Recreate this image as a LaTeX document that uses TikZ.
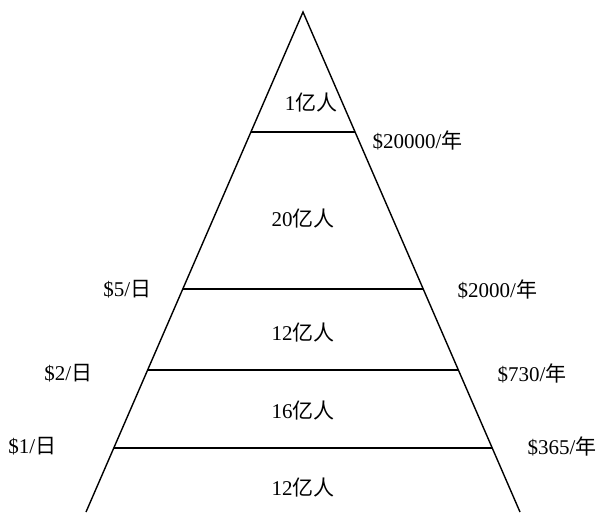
\documentclass[tikz,border=0pt]{standalone}
\usepackage{fontspec}
\setmainfont{Liberation Serif}
\newfontfamily\cjk{Noto Sans CJK SC}
\usetikzlibrary{calc, positioning}

\tikzset{
  level/.style={inner sep=0pt},
  income/.style={inner sep=0pt},
}

\begin{document}
\begin{tikzpicture}[x=1pt, y=-1pt, line width=1.4pt, font=\fontsize{21}{25}\selectfont]
\useasboundingbox (0,0) rectangle (600,512);

% outline of the pyramid
\coordinate (apex) at (303,12);
\coordinate (baseL) at (86,512);
\coordinate (baseR) at (520,512);
\draw (baseL) -- (apex) -- (baseR);

% dividing lines
\foreach \t/\n in {0.24/1, 0.554/2, 0.716/3, 0.872/4}
  \draw ($(apex)!\t!(baseL)$) coordinate (cutL\n) -- ($(apex)!\t!(baseR)$) coordinate (cutR\n);

% population of each layer
\node (p1) [level] at (311,103) {1{\cjk 亿人}};
\node (p2) [level] at (303,219) {20{\cjk 亿人}};
\node (p3) [level] at (303,333) {12{\cjk 亿人}};
\node (p4) [level] at (303,411) {16{\cjk 亿人}};
\node (p5) [level] at (303,488) {12{\cjk 亿人}};

% income per year on the right
\node (y1) [income, anchor=west] at (372,140) {\$20000/{\cjk 年}};
\node (y2) [income, anchor=west] at (457,289) {\$2000/{\cjk 年}};
\node (y3) [income, anchor=west] at (497,373) {\$730/{\cjk 年}};
\node (y4) [income, anchor=west] at (527,446) {\$365/{\cjk 年}};

% income per day on the left
\node (d1) [income, anchor=east] at (152,289) {\$5/{\cjk 日}};
\node (d2) [income, anchor=east] at (93,373) {\$2/{\cjk 日}};
\node (d3) [income, anchor=east] at (57,446) {\$1/{\cjk 日}};
\end{tikzpicture}
\end{document}
